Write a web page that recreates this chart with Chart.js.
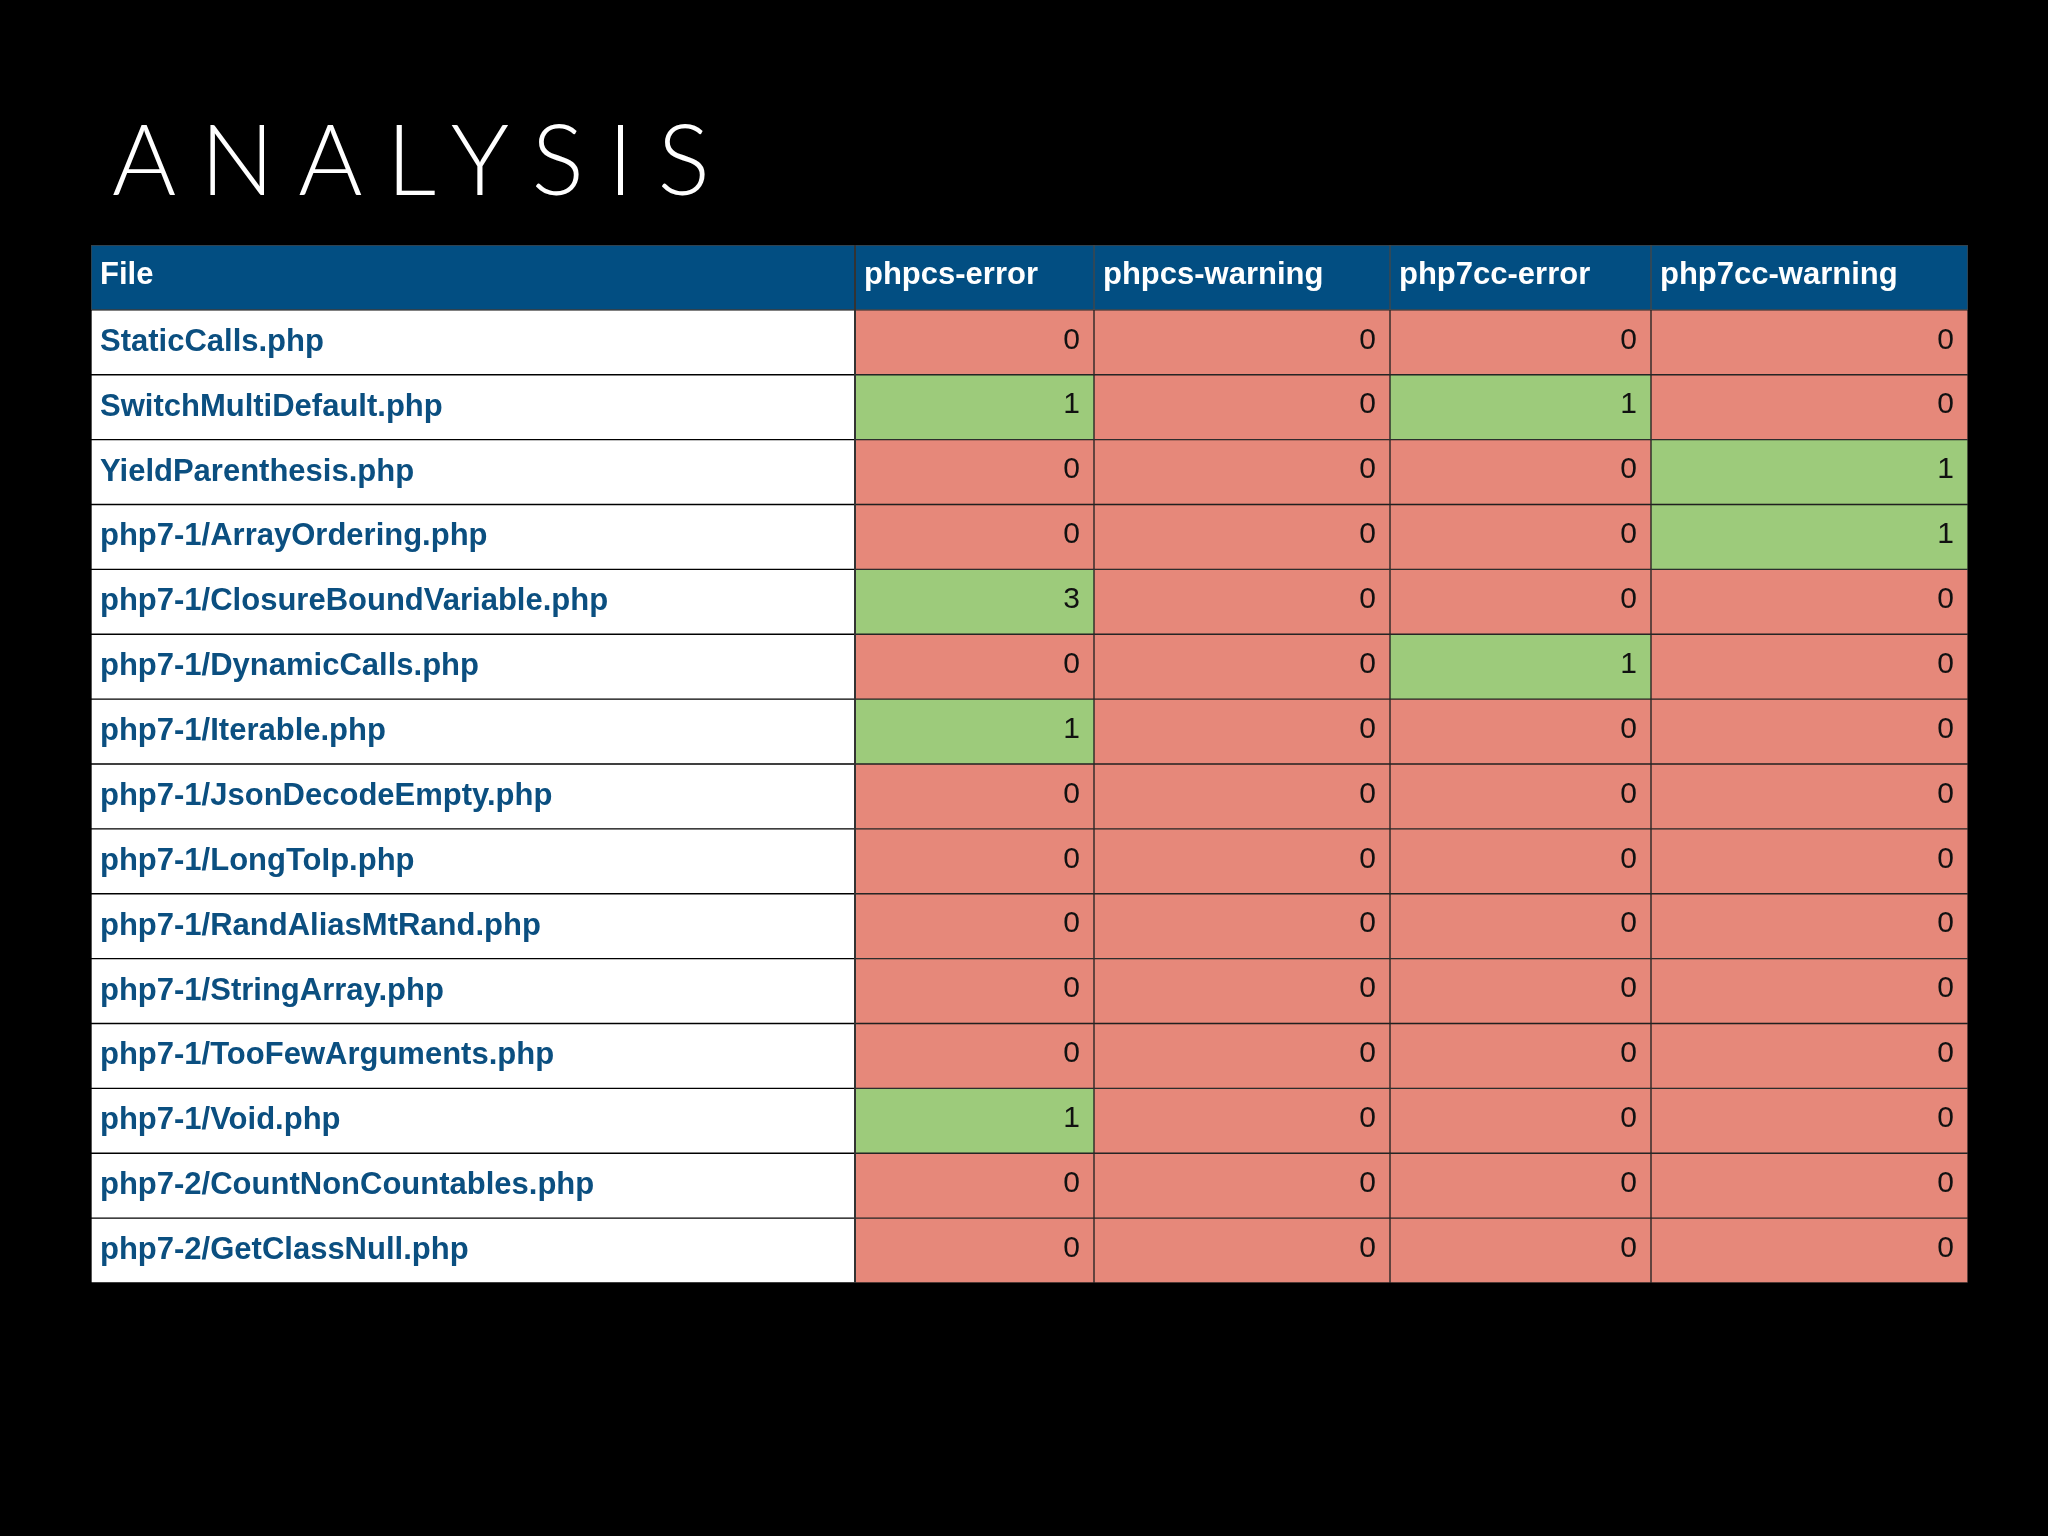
<!DOCTYPE html>
<html><head><meta charset="utf-8">
<script src="https://cdn.jsdelivr.net/npm/chart.js@4"></script>
<style>
html,body{margin:0;background:#000;width:2048px;height:1536px;overflow:hidden}
#t{position:absolute;left:112px;top:108px;color:#fff;font-family:Lato,sans-serif;font-weight:300;font-size:98px;letter-spacing:24px;line-height:1}
#w{position:absolute;left:0;top:0;width:2048px;height:1536px}
</style></head><body>
<div id="t">ANALYSIS</div>
<div id="w"><canvas id="c"></canvas></div>
<script>
const headers = ['File','phpcs-error','phpcs-warning','php7cc-error','php7cc-warning'];
const files = ['StaticCalls.php','SwitchMultiDefault.php','YieldParenthesis.php','php7-1/ArrayOrdering.php','php7-1/ClosureBoundVariable.php','php7-1/DynamicCalls.php','php7-1/Iterable.php','php7-1/JsonDecodeEmpty.php','php7-1/LongToIp.php','php7-1/RandAliasMtRand.php','php7-1/StringArray.php','php7-1/TooFewArguments.php','php7-1/Void.php','php7-2/CountNonCountables.php','php7-2/GetClassNull.php'];
const phpcsError   = [0,1,0,0,3,0,1,0,0,0,0,0,1,0,0];
const phpcsWarning = [0,0,0,0,0,0,0,0,0,0,0,0,0,0,0];
const php7ccError  = [0,1,0,0,0,1,0,0,0,0,0,0,0,0,0];
const php7ccWarning= [0,0,1,1,0,0,0,0,0,0,0,0,0,0,0];

const colWidths = [764,239,296,261,317];
const valueCols = [null, phpcsError, phpcsWarning, php7ccError, php7ccWarning];
const rows = ['__header__', ...files];
const RED='#E6887A', GREEN='#9DCB7B', HEAD='#024E82', BLUE='#0B4F80';

const datasets = colWidths.map((w,ci)=>({
  label: headers[ci],
  data: rows.map(()=>w),
  backgroundColor: ctx=>{
    const r=ctx.dataIndex;
    if(r===0) return HEAD;
    if(ci===0) return '#ffffff';
    return valueCols[ci][r-1]>0?GREEN:RED;
  },
  borderColor: ctx=> ctx.dataIndex===0 ? 'rgba(255,255,255,0.25)' : (ci===0?'rgba(0,0,0,0.12)':'rgba(255,255,255,0.12)'),
  borderWidth: 1,
  borderSkipped: false,
  barPercentage:1, categoryPercentage:1
}));

const textPlugin={id:'txt',afterDatasetsDraw(chart){
  const c=chart.ctx;
  chart.data.datasets.forEach((ds,ci)=>{
    chart.getDatasetMeta(ci).data.forEach((bar,r)=>{
      const left=Math.min(bar.base,bar.x), right=Math.max(bar.base,bar.x);
      c.save(); c.textBaseline='middle';
      if(r===0){
        c.fillStyle='#fff'; c.font='bold 31px "Liberation Sans", Arial'; c.textAlign='left';
        c.fillText(headers[ci], left+9, bar.y-2);
      } else if(ci===0){
        c.fillStyle=BLUE; c.font='bold 31px "Liberation Sans", Arial'; c.textAlign='left';
        c.fillText(files[r-1], left+9, bar.y);
      } else {
        c.fillStyle='#111'; c.font='30px "Liberation Sans", Arial'; c.textAlign='right';
        c.fillText(String(valueCols[ci][r-1]), right-14, bar.y-2);
      }
      c.restore();
    });
  });
  // divider between File column and values
  const m=chart.getDatasetMeta(0).data[0];
  const x=Math.max(m.base,m.x);
  c.save(); c.strokeStyle='#333'; c.lineWidth=2;
  c.beginPath(); c.moveTo(x,chart.chartArea.top); c.lineTo(x,chart.chartArea.bottom); c.stroke(); c.restore();
}};

new Chart(document.getElementById('c'),{
  type:'bar',
  data:{labels:rows,datasets},
  options:{
    indexAxis:'y',responsive:true,maintainAspectRatio:false,animation:false,
    layout:{padding:{left:91,right:80,top:245,bottom:253}},
    scales:{
      x:{stacked:true,display:false,min:0,max:colWidths.reduce((a,b)=>a+b,0)},
      y:{stacked:true,display:false}
    },
    plugins:{legend:{display:false},tooltip:{enabled:false}}
  },
  plugins:[textPlugin]
});
</script></body></html>
